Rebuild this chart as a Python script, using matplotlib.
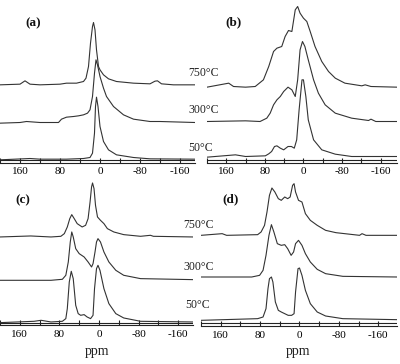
import matplotlib
matplotlib.use("Agg")
import matplotlib.pyplot as plt
from matplotlib.ticker import MultipleLocator, FixedLocator

plt.rcParams['font.family'] = ['Liberation Serif', 'DejaVu Serif']

temps = ["750°C", "300°C", "50°C"]
tick_labels = [160, 80, 0, -80, -160]
panel_names = ["(a)", "(b)", "(c)", "(d)"]

# ---------------- panel (a) ----------------
a750_ppm = [200,160,150,140,120,80,67,47,33,28,23,19,15,13,10,7,3,0,-7,-17,-33,-67,-100,-110,-115,-123,-147,-190]
a750_int = [0,2,12,2,0,2,5,5,10,20,55,125,175,187,165,105,55,45,30,18,10,5,3,11,12,3,0,0]
a300_ppm = [200,160,147,120,83,77,67,53,43,33,25,20,15,11,8,5,0,-7,-13,-27,-47,-67,-100,-120,-190]
a300_int = [0,2,5,2,2,12,18,20,22,25,30,40,80,150,190,175,140,105,80,50,25,12,5,5,2]
a50_ppm = [200,140,120,67,33,20,15,11,9,7,4,0,-7,-17,-33,-67,-100,-190]
a50_int = [-2,2,0,0,2,5,18,78,158,186,158,98,53,28,13,5,1,0]
a_offsets = [233, 118, 10]

# ---------------- panel (b) ----------------
b750_ppm = [200,155,145,120,100,83,72,62,55,45,38,31,24,17,12,7,0,-7,-14,-24,-38,-52,-66,-86,-121,-128,-140,-194]
b750_int = [0,12,2,0,2,22,62,107,117,122,152,170,167,232,242,222,207,197,167,122,77,47,27,12,4,7,2,0]
b300_ppm = [200,120,90,76,69,62,55,48,41,32,24,17,12,7,2,-3,-10,-21,-31,-45,-66,-100,-135,-140,-150,-194]
b300_int = [0,2,0,10,25,50,65,75,90,103,95,75,125,215,240,225,185,125,85,50,25,10,3,7,0,0]
b50_ppm = [200,141,120,79,72,66,60,55,48,41,32,25,19,14,9,3,0,-5,-10,-21,-38,-66,-100,-194]
b50_int = [-2,5,0,2,8,15,30,32,25,20,30,30,25,50,140,230,230,180,110,50,20,7,0,0]
b_offsets = [226, 123, 18]

# ---------------- panel (c) ----------------
c750_ppm = [200,138,97,77,70,64,59,55,50,44,34,27,22,18,15,13,10,7,3,-3,-10,-17,-30,-50,-84,-104,-110,-190]
c750_int = [0,3,0,2,10,30,55,67,55,40,30,35,55,105,150,162,145,95,60,50,40,25,15,7,2,5,2,0]
c300_ppm = [200,97,74,67,62,58,55,52,47,40,30,22,15,12,8,5,2,-3,-10,-20,-34,-50,-84,-190]
c300_int = [0,0,3,15,55,115,145,130,95,80,70,55,40,50,85,115,125,115,85,55,30,15,5,2]
c50_ppm = [200,131,117,97,74,67,64,60,56,52,47,42,37,30,24,17,12,9,5,2,-2,-10,-20,-34,-50,-84,-190]
c50_int = [-2,2,5,0,2,10,40,120,152,130,50,25,20,22,15,10,20,100,160,170,155,100,55,25,12,2,0]
c_offsets = [265, 135, 10]

# ---------------- panel (d) ----------------
d750_ppm = [200,157,148,85,78,71,66,61,56,50,43,37,30,24,19,14,11,8,2,-5,-12,-22,-36,-53,-74,-122,-127,-135,-198]
d750_int = [0,5,0,2,10,30,70,120,142,130,110,105,115,110,115,150,155,130,105,100,65,45,30,15,8,0,5,0,0]
d300_ppm = [200,97,81,74,68,62,57,52,45,37,30,24,17,12,8,2,-5,-12,-22,-36,-53,-88,-198]
d300_int = [0,0,5,20,65,125,157,135,100,95,97,85,65,75,100,110,95,70,45,23,10,2,0]
d50_ppm = [200,131,85,74,68,64,61,57,54,49,43,37,30,23,16,11,8,3,0,-5,-12,-22,-36,-53,-88,-198]
d50_int = [0,3,5,10,35,95,125,130,115,55,30,25,20,15,15,20,85,155,157,135,90,50,25,13,5,2]
d_offsets = [272, 147, 17]

panels = [
    ([(a750_ppm, a750_int), (a300_ppm, a300_int), (a50_ppm, a50_int)], a_offsets),
    ([(b750_ppm, b750_int), (b300_ppm, b300_int), (b50_ppm, b50_int)], b_offsets),
    ([(c750_ppm, c750_int), (c300_ppm, c300_int), (c50_ppm, c50_int)], c_offsets),
    ([(d750_ppm, d750_int), (d300_ppm, d300_int), (d50_ppm, d50_int)], d_offsets),
]

W, H = 400, 364
fig = plt.figure(figsize=(W / 100, H / 100), dpi=100)

# axes rectangles in pixels: (left, right, axis_y, top_y, xlim)
rects = [
    (0, 195, 162.5, 2, (200, -190)),
    (207, 397, 162.5, 2, (200, -194)),
    (0, 193, 325.3, 174, (200, -190)),
    (201, 397, 326, 174, (200, -198)),
]
line_color = '#333333'

for (traces, offs), (l, r, ay, ty, xl), name in zip(panels, rects, panel_names):
    ph = ay - ty
    ax = fig.add_axes([l / W, 1 - ay / H, (r - l) / W, ph / H])
    for (x, y), off in zip(traces, offs):
        ax.plot(x, [v + off for v in y], color=line_color, lw=0.8)
    ax.set_xlim(*xl)
    ax.set_ylim(0, ph * 3)
    for s in ['top', 'left', 'right']:
        ax.spines[s].set_visible(False)
    ax.spines['bottom'].set_linewidth(0.8)
    ax.spines['bottom'].set_color('#222222')
    ax.axhline(8, color='#222222', lw=0.8)
    ax.set_yticks([])
    ax.xaxis.set_major_locator(FixedLocator(tick_labels))
    ax.xaxis.set_minor_locator(MultipleLocator(40))
    ax.tick_params(axis='x', which='both', direction='in', length=3.5, width=0.8,
                   color='#222222', labelsize=8, pad=3.5)
    ax.set_xticklabels([str(t) for t in tick_labels])
    ax.patch.set_alpha(0)

def ftext(x, y, s, **kw):
    fig.text(x / W, 1 - y / H, s, **kw)

# temperature labels
for x, y, t in [(188, 73, temps[0]), (188, 110, temps[1]), (188, 148, temps[2]),
                (183, 225, temps[0]), (183, 267, temps[1]), (185, 305, temps[2])]:
    ftext(x, y, t, ha='left', va='center', fontsize=8.5, color='#222222')

# panel letters
for x, y, s in [(25, 23, "(a)"), (225, 22, "(b)"), (15, 200, "(c)"), (222, 199, "(d)")]:
    ftext(x, y, s, ha='left', va='center', fontsize=9.5, fontweight='bold', color='#111111')

# x-axis titles
ftext(97, 355, "ppm", ha='center', va='baseline', fontsize=10, color='#222222')
ftext(298, 355, "ppm", ha='center', va='baseline', fontsize=10, color='#222222')

fig.savefig("out.png", dpi=100)
